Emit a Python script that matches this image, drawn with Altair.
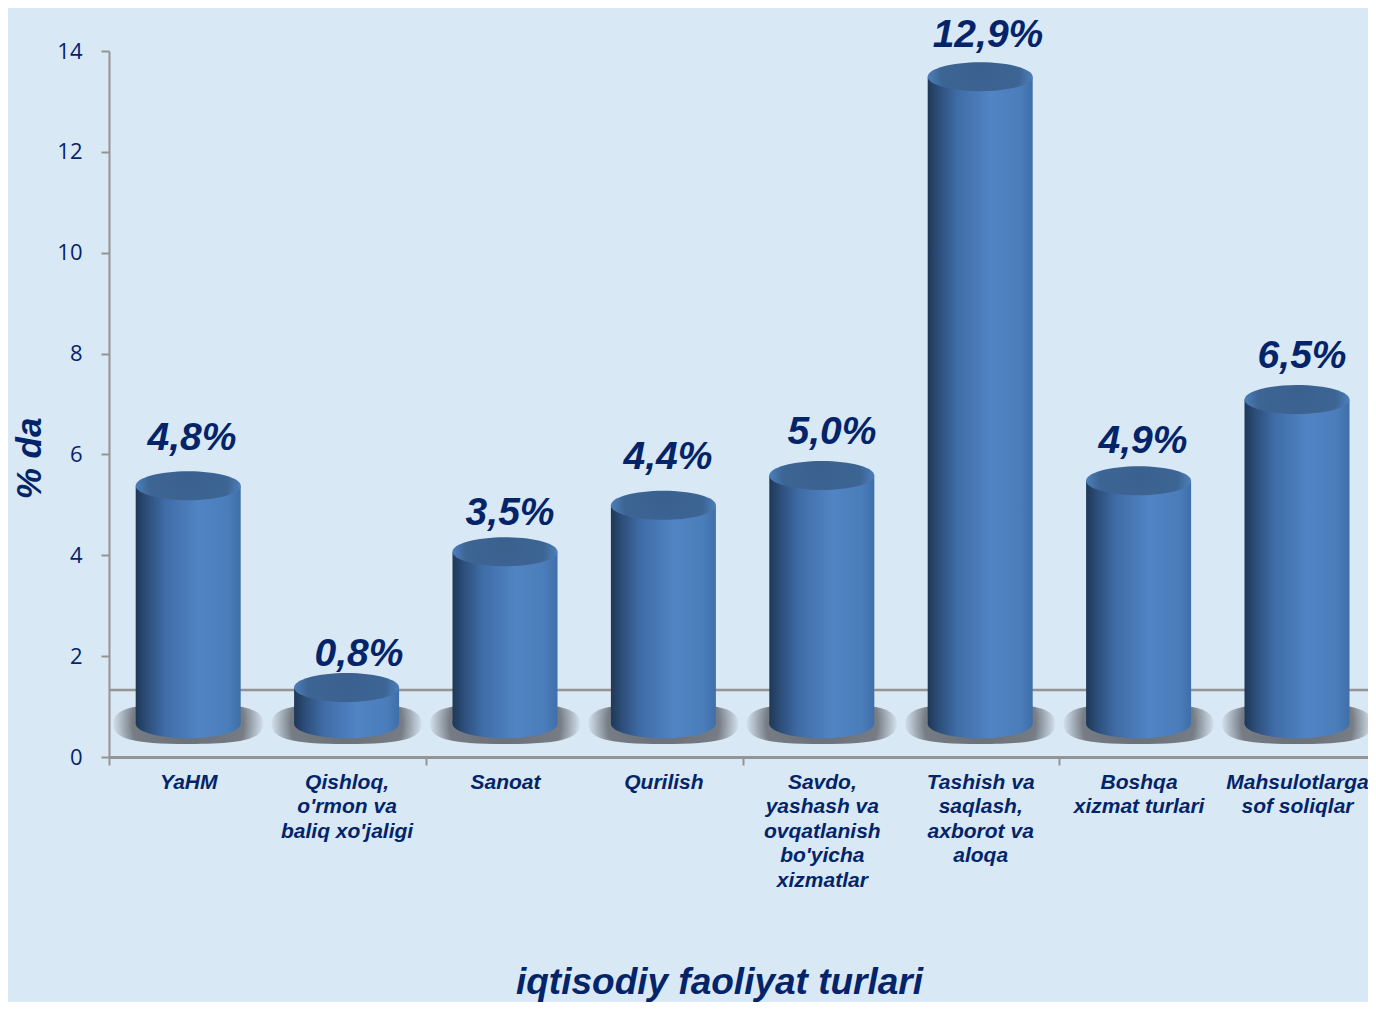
import json
import altair as alt
import pandas as pd

names = ["YaHM", "Qishloq,|o'rmon va|baliq xo'jaligi", "Sanoat", "Qurilish",
         "Savdo,|yashash va|ovqatlanish|bo'yicha|xizmatlar",
         "Tashish va|saqlash,|axborot va|aloqa", "Boshqa|xizmat turlari",
         "Mahsulotlarga|sof soliqlar"]
slot = [0.5, 1.5, 2.5, 3.5, 4.5, 5.5, 6.5, 7.5]
top = [5.38, 1.38, 4.07, 4.99, 5.58, 13.49, 5.48, 7.09]
base = [0.66] * 8
labels = ["4,8%", "0,8%", "3,5%", "4,4%", "5,0%", "12,9%", "4,9%", "6,5%"]
label_x = [0.524, 1.578, 2.532, 3.529, 4.564, 5.549, 6.528, 7.532]
label_y = [6.33, 2.04, 4.84, 5.95, 6.44, 14.32, 6.27, 7.95]
floor_line = [1.33]

df = pd.DataFrame(dict(name=names, slot=slot, top=top, base=base, label=labels,
                       label_x=label_x, label_y=label_y))

NAVY = "#04246a"
GREY = "#949494"
FONT = "Liberation Sans"
ELLIPSE = ("M-1,0 C-1,-0.152 -0.552,-0.276 0,-0.276 C0.552,-0.276 1,-0.152 1,0 "
           "C1,0.152 0.552,0.276 0,0.276 C-0.552,0.276 -1,0.152 -1,0 Z")
BLOB = ("M-1,0 C-1,-0.2 -0.75,-0.27 0,-0.27 C0.75,-0.27 1,-0.2 1,0 "
        "C1,0.2 0.75,0.27 0,0.27 C-0.75,0.27 -1,0.2 -1,0 Z")
WIDTH, HEIGHT = 1259, 706
XMAX = WIDTH / 158.4

side = alt.LinearGradient(
    gradient="linear", x1=0, x2=1, y1=0, y2=0,
    stops=[alt.GradientStop(offset=0, color="#1f3856"),
           alt.GradientStop(offset=0.1, color="#2c4d78"),
           alt.GradientStop(offset=0.28, color="#3f6ca6"),
           alt.GradientStop(offset=0.6, color="#5184c4"),
           alt.GradientStop(offset=0.88, color="#4b7dbb"),
           alt.GradientStop(offset=1, color="#3f6fa9")])
cap = alt.RadialGradient(
    gradient="radial", x1=0.5, y1=0.4, r1=0, x2=0.5, y2=0.5, r2=0.52,
    stops=[alt.GradientStop(offset=0, color="#3a608e"),
           alt.GradientStop(offset=0.72, color="#3d6594"),
           alt.GradientStop(offset=0.92, color="#4a7ab5"),
           alt.GradientStop(offset=1, color="#4f84c4")])
shade = alt.RadialGradient(
    gradient="radial", x1=0.5, y1=0.5, r1=0, x2=0.5, y2=0.5, r2=0.5,
    stops=[alt.GradientStop(offset=0, color="rgba(85,88,95,0.85)"),
           alt.GradientStop(offset=0.74, color="rgba(85,88,95,0.75)"),
           alt.GradientStop(offset=1, color="rgba(85,88,95,0.05)")])

x_values = [0, 0.5, 1.5, 2, 2.5, 3.5, 4, 4.5, 5.5, 6, 6.5, 7.5]
names_js = json.dumps(names)
x_axis = alt.Axis(
    values=x_values, grid=False, title="iqtisodiy faoliyat turlari",
    titleFont=FONT, titleFontSize=37, titleFontWeight="bold", titleFontStyle="italic",
    titleColor=NAVY, titleX=610, titleY=236, titleAlign="center", titleBaseline="alphabetic",
    domainColor=GREY, domainWidth=3, tickColor=GREY, tickWidth=2, tickSize=8,
    tickOpacity={"condition": {"test": "datum.value % 2 === 0", "value": 1}, "value": 0},
    labelExpr=f"datum.value % 1 ? split({names_js}[floor(datum.value)], '|') : ''",
    labelFont=FONT, labelFontSize=21, labelFontWeight="bold", labelFontStyle="italic",
    labelColor=NAVY, labelLineHeight=24.5, labelPadding=6, labelOverlap=False,
    labelBound=False, labelFlush=False, labelAngle=0, labelBaseline="top",
)
y_axis = alt.Axis(
    values=[0, 2, 4, 6, 8, 10, 12, 14], grid=False, title="% da",
    titleFont=FONT, titleFontSize=35, titleFontWeight="bold", titleFontStyle="italic",
    titleColor=NAVY, titleAngle=270, titleX=-69, titleY=407, titleAlign="center", titleBaseline="alphabetic",
    domainColor=GREY, domainWidth=2, tickColor=GREY, tickWidth=2, tickSize=8,
    labelFont="Open Sans", labelFontSize=22, labelColor=NAVY, labelPadding=19,
)
x_scale = alt.Scale(domain=[0, XMAX], nice=False, zero=False, padding=0)
y_scale = alt.Scale(domain=[0, 14], nice=False)


def X(field):
    return alt.X(f"{field}:Q", scale=x_scale, axis=x_axis)


def Y(field):
    return alt.Y(f"{field}:Q", scale=y_scale, axis=y_axis)


floor_rule = alt.Chart(pd.DataFrame({"v": floor_line})).mark_rule(color=GREY, strokeWidth=2.5).encode(y=Y("v"))
shadow = alt.Chart(df).mark_point(shape=BLOB, size=150 ** 2, filled=True, fill=shade, opacity=1, strokeWidth=0).encode(
    x=X("slot"), y=Y("base"))
body = alt.Chart(df).mark_bar(size=105, fill=side, opacity=1).encode(x=X("slot"), y=Y("top"), y2="base:Q")
foot = alt.Chart(df).mark_point(shape=ELLIPSE, size=105 ** 2, filled=True, fill=side, opacity=1, strokeWidth=0).encode(
    x=X("slot"), y=Y("base"))
lid = alt.Chart(df).mark_point(shape=ELLIPSE, size=105 ** 2, filled=True, fill=cap, opacity=1, strokeWidth=0).encode(
    x=X("slot"), y=Y("top"))
text = alt.Chart(df).mark_text(font=FONT, fontSize=39, fontWeight="bold", fontStyle="italic",
                               color=NAVY, baseline="middle", align="center").encode(
    x=X("label_x"), y=Y("label_y"), text="label:N")

chart = alt.layer(shadow, floor_rule, body, foot, lid, text).properties(
    width=WIDTH, height=HEIGHT, background="#d9e8f5",
    padding={"left": 101, "top": 43, "right": 0, "bottom": 245},
    autosize=alt.AutoSizeParams(type="none"),
).configure_view(stroke=None)

chart.save("out.html", embed_options={"renderer": "svg", "actions": False})
